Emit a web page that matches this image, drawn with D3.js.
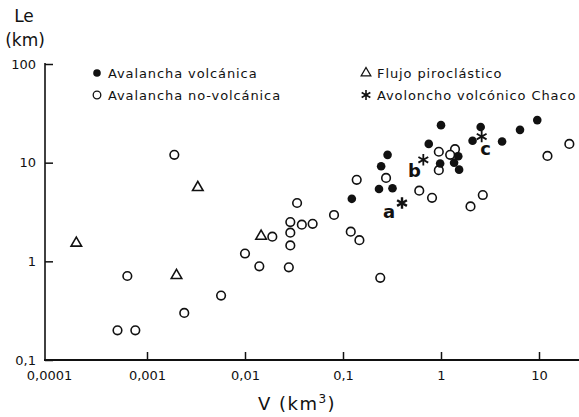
<!DOCTYPE html>
<html>
<head>
<meta charset="utf-8">
<script src="https://cdn.jsdelivr.net/npm/d3@7"></script>
<style>
  body { margin: 0; background: #fff; }
  text { font-family: "DejaVu Sans", sans-serif; fill: #111; }
</style>
</head>
<body>
<div id="chart"></div>
<script>
// volume (km3) vs runout length Le (km)
const volcV  = [0.123, 0.233, 0.32, 0.245, 0.285, 0.75, 1.0, 0.98, 1.5, 1.36, 1.53, 2.54, 2.1, 4.2, 6.4, 9.6];
const volcLe = [4.3, 5.4, 5.5, 9.2, 12, 15.5, 24, 9.8, 11.6, 10, 8.5, 23, 16.7, 16.4, 21.5, 27];

const nonV  = [0.0019, 0.00063, 0.0024, 0.0005, 0.00076, 0.0057, 0.01, 0.014, 0.019, 0.029, 0.029, 0.029, 0.028,
               0.034, 0.038, 0.049, 0.081, 0.12, 0.147, 0.138, 0.24, 0.275, 0.6, 0.81, 0.95, 0.95, 1.39, 1.24,
               2.67, 2.0, 12.2, 20.4];
const nonLe = [12, 0.71, 0.3, 0.2, 0.2, 0.45, 1.2, 0.89, 1.78, 2.5, 1.95, 1.45, 0.87,
               3.9, 2.35, 2.4, 2.95, 2.0, 1.64, 6.7, 0.68, 7.0, 5.2, 4.4, 12.9, 8.4, 13.7, 12,
               4.7, 3.6, 11.7, 15.5];

const pyroV  = [0.00019, 0.002, 0.0033, 0.0146];
const pyroLe = [1.53, 0.72, 5.6, 1.8];

const chacoV   = [0.4, 0.66, 2.6];
const chacoLe  = [3.9, 10.7, 18.4];
const chacoLab = ["a", "b", "c"];

const xTicks = [1e-4, 1e-3, 1e-2, 1e-1, 1, 10];
const xTickLabels = ["0,0001", "0,001", "0,01", "0,1", "1", "10"];
const yTicks = [0.1, 1, 10, 100];
const yTickLabels = ["0,1", "1", "10", "100"];

const legendItems = ["Avalancha volcánica", "Avalancha no-volcánica", "Flujo piroclástico", "Avoloncho volcónico Chaco"];

const width = 579, height = 417;

const svg = d3.select("#chart")
    .append("svg")
    .attr("width", width)
    .attr("height", height);

const x = d3.scaleLog().domain([1e-4, 10]).range([49, 539]);
const y = d3.scaleLog().domain([0.1, 100]).range([360, 64]);

// axes, ticks pointing inward
const xAxis = svg.append("g")
    .attr("transform", "translate(0,360)")
    .call(d3.axisBottom(x).tickValues(xTicks).tickSizeInner(-8).tickSizeOuter(0).tickPadding(11)
        .tickFormat((d, i) => xTickLabels[i]));
const yAxis = svg.append("g")
    .attr("transform", "translate(45,0)")
    .call(d3.axisLeft(y).tickValues(yTicks).tickSizeInner(-8).tickSizeOuter(0).tickPadding(9)
        .tickFormat((d, i) => yTickLabels[i]));

[xAxis, yAxis].forEach(g => {
    g.select(".domain").remove();
    g.selectAll(".tick line").attr("stroke", "#111").attr("stroke-width", 1.5);
    g.selectAll(".tick text").attr("font-family", "Liberation Sans, sans-serif").attr("font-size", 13).attr("fill", "#111");
});
xAxis.selectAll(".tick").filter(d => d === 1e-4).select("line").remove();

svg.append("line").attr("x1", 44).attr("x2", 579).attr("y1", 360).attr("y2", 360)
    .attr("stroke", "#111").attr("stroke-width", 2);
svg.append("line").attr("x1", 45).attr("x2", 45).attr("y1", 361).attr("y2", y(100) - 1)
    .attr("stroke", "#111").attr("stroke-width", 1.6);

// axis titles
svg.append("text").attr("x", 24).attr("y", 22).attr("text-anchor", "middle")
    .attr("font-size", 17).text("Le");
svg.append("text").attr("x", 25).attr("y", 46).attr("text-anchor", "middle")
    .attr("font-size", 17).text("(km)");
const vt = svg.append("text").attr("x", 297).attr("y", 410).attr("text-anchor", "middle")
    .attr("font-size", 18).attr("letter-spacing", 1.5);
vt.append("tspan").text("V (km");
vt.append("tspan").attr("dy", -7).attr("font-size", 12).text("3");
vt.append("tspan").attr("dy", 7).text(")");

// markers
const tri = d3.symbol(d3.symbolTriangle, 48);
const ast = d3.symbol(d3.symbolAsterisk, 90);

svg.append("g").selectAll("circle")
    .data(nonV.map((v, i) => [v, nonLe[i]]))
    .join("circle")
    .attr("cx", d => x(d[0])).attr("cy", d => y(d[1])).attr("r", 4.3)
    .attr("fill", "#fff").attr("stroke", "#111").attr("stroke-width", 1.6);

svg.append("g").selectAll("path")
    .data(pyroV.map((v, i) => [v, pyroLe[i]]))
    .join("path")
    .attr("d", tri)
    .attr("transform", d => `translate(${x(d[0])},${y(d[1])})`)
    .attr("fill", "#fff").attr("stroke", "#111").attr("stroke-width", 1.6);

svg.append("g").selectAll("circle")
    .data(volcV.map((v, i) => [v, volcLe[i]]))
    .join("circle")
    .attr("cx", d => x(d[0])).attr("cy", d => y(d[1])).attr("r", 4.3)
    .attr("fill", "#111");

const chaco = svg.append("g").selectAll("g")
    .data(chacoV.map((v, i) => [v, chacoLe[i], chacoLab[i]]))
    .join("g")
    .attr("transform", d => `translate(${x(d[0])},${y(d[1])})`);
chaco.append("path").attr("d", ast).attr("fill", "none").attr("stroke", "#111")
    .attr("stroke-width", d => d[2] === "a" ? 2.4 : 1.8);
const labOff = {a: [-13, 15], b: [-9, 17], c: [4, 18]};
chaco.append("text")
    .attr("x", d => labOff[d[2]][0]).attr("y", d => labOff[d[2]][1])
    .attr("text-anchor", "middle").attr("font-size", 18).attr("font-weight", "bold")
    .text(d => d[2]);

// legend
const leg = svg.append("g").attr("font-size", 13);
const legPos = [[97, 73], [97, 95], [366, 73], [366, 95]];
legendItems.forEach((t, i) => {
    const [lx, ly] = legPos[i];
    const g = leg.append("g").attr("transform", `translate(${lx},${ly})`);
    if (i === 0) g.append("circle").attr("r", 3.8).attr("fill", "#111");
    if (i === 1) g.append("circle").attr("r", 3.8).attr("fill", "#fff").attr("stroke", "#111").attr("stroke-width", 1.3);
    if (i === 2) g.append("path").attr("d", d3.symbol(d3.symbolTriangle, 40)).attr("fill", "#fff").attr("stroke", "#111").attr("stroke-width", 1.3);
    if (i === 3) g.append("path").attr("d", d3.symbol(d3.symbolAsterisk, 70)).attr("fill", "none").attr("stroke", "#111").attr("stroke-width", 1.6);
    g.append("text").attr("x", 11).attr("y", 5).attr("letter-spacing", 0.9).text(t);
});
</script>
</body>
</html>
